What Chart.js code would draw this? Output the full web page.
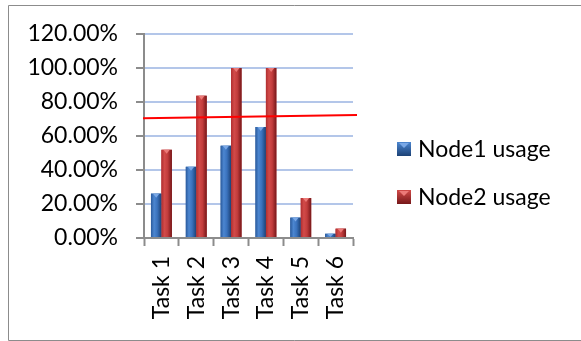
<!DOCTYPE html>
<html><head><meta charset="utf-8">
<script src="https://cdn.jsdelivr.net/npm/chart.js@4"></script>
<style>
html,body{margin:0;padding:0;background:#fff;overflow:hidden;}
canvas{display:block;}
</style></head><body>
<canvas id="c" width="581" height="341"></canvas>
<script>
const categories = ['Task 1', 'Task 2', 'Task 3', 'Task 4', 'Task 5', 'Task 6'];
const node1Usage = [26.1, 41.9, 54.3, 65.3, 12.0, 2.5];
const node2Usage = [51.9, 83.7, 100, 100, 23.5, 5.5];
const seriesNames = ['Node1 usage', 'Node2 usage'];
const referenceLine = [70.4, 72.4];          // red line: value at left edge, value at right edge
const yTicks = [0, 20, 40, 60, 80, 100, 120];

const FONT = { family: 'Lato, "Liberation Sans", sans-serif', size: 23 };
const AXIS_GREY = '#8c8c8c';

const palettes = [
  { base: '#2f64a8', edge: '#2a5a9c', light: '#4c86d0', mid: '#3a72bd', dark: '#1c4276', bevel: '#7aa8e6' },
  { base: '#b83234', edge: '#b02e30', light: '#d24b49', mid: '#c23c3c', dark: '#761719', bevel: '#ec7a78' }
];

// outer frame (open on the right side)
const frame = {
  id: 'frame',
  beforeDraw(chart) {
    const ctx = chart.ctx;
    ctx.save();
    ctx.fillStyle = '#fff';
    ctx.fillRect(0, 0, chart.width, chart.height);
    ctx.strokeStyle = AXIS_GREY;
    ctx.lineWidth = 1;
    ctx.beginPath();
    ctx.moveTo(chart.width, 5.5);
    ctx.lineTo(8.5, 5.5);
    ctx.lineTo(8.5, 340.5);
    ctx.lineTo(chart.width, 340.5);
    ctx.stroke();
    ctx.restore();
  }
};

// 3D-look shading painted over every bar element
const barShading = {
  id: 'barShading',
  afterDatasetsDraw(chart) {
    const ctx = chart.ctx;
    ctx.save();
    chart.data.datasets.forEach((ds, i) => {
      const meta = chart.getDatasetMeta(i);
      const pal = palettes[i];
      meta.data.forEach(bar => {
        const { x, y, base, width } = bar.getProps(['x', 'y', 'base', 'width'], true);
        const l = x - width / 2, r = x + width / 2;
        const g = ctx.createLinearGradient(l, 0, r, 0);
        g.addColorStop(0, pal.edge);
        g.addColorStop(0.3, pal.light);
        g.addColorStop(0.6, pal.mid);
        g.addColorStop(1, pal.dark);
        ctx.fillStyle = g;
        ctx.fillRect(l, y, width, base - y);
        const h = Math.min(4, base - y);
        ctx.fillStyle = pal.bevel;
        ctx.beginPath();
        ctx.moveTo(l + width * 0.2, y);
        ctx.lineTo(r - width * 0.2, y);
        ctx.lineTo(x, y + h);
        ctx.closePath();
        ctx.fill();
      });
    });
    ctx.restore();
  }
};

// red reference line across the plot
const refLine = {
  id: 'refLine',
  afterDatasetsDraw(chart) {
    const { ctx, chartArea } = chart;
    const ys = chart.scales.y;
    ctx.save();
    ctx.strokeStyle = '#ff0000';
    ctx.lineWidth = 2;
    ctx.beginPath();
    ctx.moveTo(chartArea.left - 1, ys.getPixelForValue(referenceLine[0]));
    ctx.lineTo(chartArea.right + 4, ys.getPixelForValue(referenceLine[1]));
    ctx.stroke();
    ctx.restore();
  }
};

// legend on the right with bevelled squares
const sideLegend = {
  id: 'sideLegend',
  afterDraw(chart) {
    const ctx = chart.ctx;
    ctx.save();
    ctx.font = `${FONT.size}px ${FONT.family}`;
    ctx.textBaseline = 'middle';
    chart.data.datasets.forEach((ds, i) => {
      const pal = palettes[i];
      const cy = 149 + i * 48;
      const bx = 397, bs = 14, by = cy - bs / 2;
      const g = ctx.createLinearGradient(0, by, 0, by + bs);
      g.addColorStop(0, pal.light);
      g.addColorStop(1, pal.dark);
      ctx.fillStyle = g;
      ctx.fillRect(bx, by, bs, bs);
      ctx.fillStyle = pal.bevel;
      ctx.beginPath();
      ctx.moveTo(bx + 2, by + 1);
      ctx.lineTo(bx + bs - 2, by + 1);
      ctx.lineTo(bx + bs / 2, by + 6);
      ctx.closePath();
      ctx.fill();
      ctx.fillStyle = '#000';
      ctx.fillText(ds.label, 418, cy + 1);
    });
    ctx.restore();
  }
};

new Chart(document.getElementById('c'), {
  type: 'bar',
  data: {
    labels: categories,
    datasets: [
      { label: seriesNames[0], data: node1Usage, backgroundColor: palettes[0].base },
      { label: seriesNames[1], data: node2Usage, backgroundColor: palettes[1].base }
    ]
  },
  options: {
    responsive: false,
    animation: false,
    events: [],
    categoryPercentage: 0.6,
    barPercentage: 1.0,
    layout: { padding: { left: 8, right: 228, top: 34, bottom: 0 } },
    plugins: { legend: { display: false }, tooltip: { enabled: false } },
    scales: {
      x: {
        grid: { offset: true, drawOnChartArea: false, tickLength: 8, tickColor: AXIS_GREY, tickWidth: 2 },
        border: { color: AXIS_GREY, width: 2 },
        ticks: { minRotation: 90, maxRotation: 90, padding: 10, color: '#000', font: FONT, autoSkip: false },
        afterFit(s) { s.height = 103; }
      },
      y: {
        min: yTicks[0],
        max: yTicks[yTicks.length - 1],
        grid: {
          color: c => (c.tick && c.tick.value === 0 ? 'rgba(0,0,0,0)' : '#b3c6e9'),
          lineWidth: 2, tickColor: AXIS_GREY, tickLength: 8, tickWidth: 2
        },
        border: { color: AXIS_GREY, width: 2 },
        ticks: {
          stepSize: yTicks[1] - yTicks[0],
          padding: 18, color: '#000', font: FONT,
          callback: v => v.toFixed(2) + '%'
        },
        afterFit(s) { s.width = 136; }
      }
    }
  },
  plugins: [frame, barShading, refLine, sideLegend]
});
</script>
</body></html>
